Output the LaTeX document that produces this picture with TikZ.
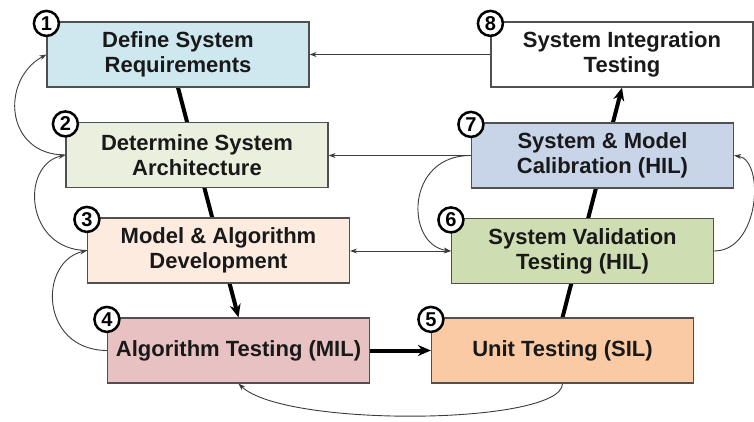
\documentclass[tikz,border=0pt]{standalone}
\usepackage{fontspec}
\setmainfont{Liberation Sans}
\usetikzlibrary{arrows.meta,backgrounds}
\definecolor{cA}{RGB}{206,232,240}
\definecolor{cB}{RGB}{235,240,222}
\definecolor{cC}{RGB}{252,235,222}
\definecolor{cD}{RGB}{232,194,194}
\definecolor{cE}{RGB}{249,202,164}
\definecolor{cF}{RGB}{207,222,178}
\definecolor{cG}{RGB}{200,212,232}
\definecolor{cH}{RGB}{255,255,255}
\definecolor{boxline}{RGB}{80,80,80}
\definecolor{lin}{RGB}{60,60,60}
\definecolor{txt}{RGB}{25,25,25}
\begin{document}
\begin{tikzpicture}[x=1pt,y=-1pt,
  stagebox/.style={draw=boxline, line width=1.2pt, minimum width=262pt, minimum height=65pt,
    inner sep=0pt, align=center, font=\fontsize{22}{25}\selectfont\bfseries, text=txt},
  numcircle/.style={circle, draw=black, line width=2.5pt, fill=white, minimum size=25pt,
    inner sep=0pt, font=\fontsize{20}{20}\selectfont\bfseries, yshift=-2pt},
  lightline/.style={draw=lin, line width=0.9pt},
  lightarrow/.style={lightline, -{Stealth[length=7pt,width=5pt]}},
  lightboth/.style={lightline, {Stealth[length=7pt,width=5pt]}-{Stealth[length=7pt,width=5pt]}},
  heavyline/.style={line width=4pt, draw=black},
  heavyarrow/.style={heavyline, -{Stealth[length=13pt,width=11pt]}}]
\useasboundingbox (0,0) rectangle (754,421);
% boxes
\node[stagebox, fill=cA] (b1) at (178,54.5) {Define System\\Requirements};
\node[stagebox, fill=cB] (b2) at (197,155) {Determine System\\Architecture};
\node[stagebox, fill=cC] (b3) at (218.5,250.5) {Model \& Algorithm\\Development};
\node[stagebox, fill=cD] (b4) at (238.5,350.5) {Algorithm Testing (MIL)};
\node[stagebox, fill=cE] (b5) at (562.5,350.5) {Unit Testing (SIL)};
\node[stagebox, fill=cF] (b6) at (582.5,251) {System Validation\\Testing (HIL)};
\node[stagebox, fill=cG] (b7) at (602.5,155.5) {System \& Model\\Calibration (HIL)};
\node[stagebox, fill=cH] (b8) at (622,54.5) {System Integration\\Testing};
% heavy flow lines behind boxes
\begin{scope}[on background layer]
  \draw[heavyarrow] (b1.south) -- (b4.north);
  \draw[heavyarrow] (b5.north) -- (b8.south);
\end{scope}
\draw[heavyarrow] (b4.east) -- (b5.west);
% thin straight connectors
\draw[lightarrow] (b8.west) -- (b1.east);
\draw[lightarrow] (b7.west) -- (b7.west -| b2.east);
\draw[lightboth] (b3.east |- b6.west) -- (b6.west);
% thin curved connectors
\draw[lightarrow] (b2.west) .. controls (5,155) and (0,80) .. (b1.west);
\draw[lightarrow] (b3.west) .. controls (25,250) and (20,165) .. (b2.west);
\draw[lightarrow] (b4.west) .. controls (40,350) and (38,262) .. (b3.west);
\draw[lightarrow] (b7.west) .. controls (405,155) and (405,245) .. (b6.west);
\draw[lightarrow] (b6.east) .. controls (760,251) and (765,160) .. (b7.east);
\draw[lightarrow] (b5.south) .. controls (562,425) and (285,428) .. (b4.south);
% number circles
\node[numcircle] (n1) at (b1.north west) {1};
\node[numcircle] (n2) at (b2.north west) {2};
\node[numcircle] (n3) at (b3.north west) {3};
\node[numcircle] (n4) at (b4.north west) {4};
\node[numcircle] (n5) at (b5.north west) {5};
\node[numcircle] (n6) at (b6.north west) {6};
\node[numcircle] (n7) at (b7.north west) {7};
\node[numcircle] (n8) at (b8.north west) {8};
\end{tikzpicture}
\end{document}
